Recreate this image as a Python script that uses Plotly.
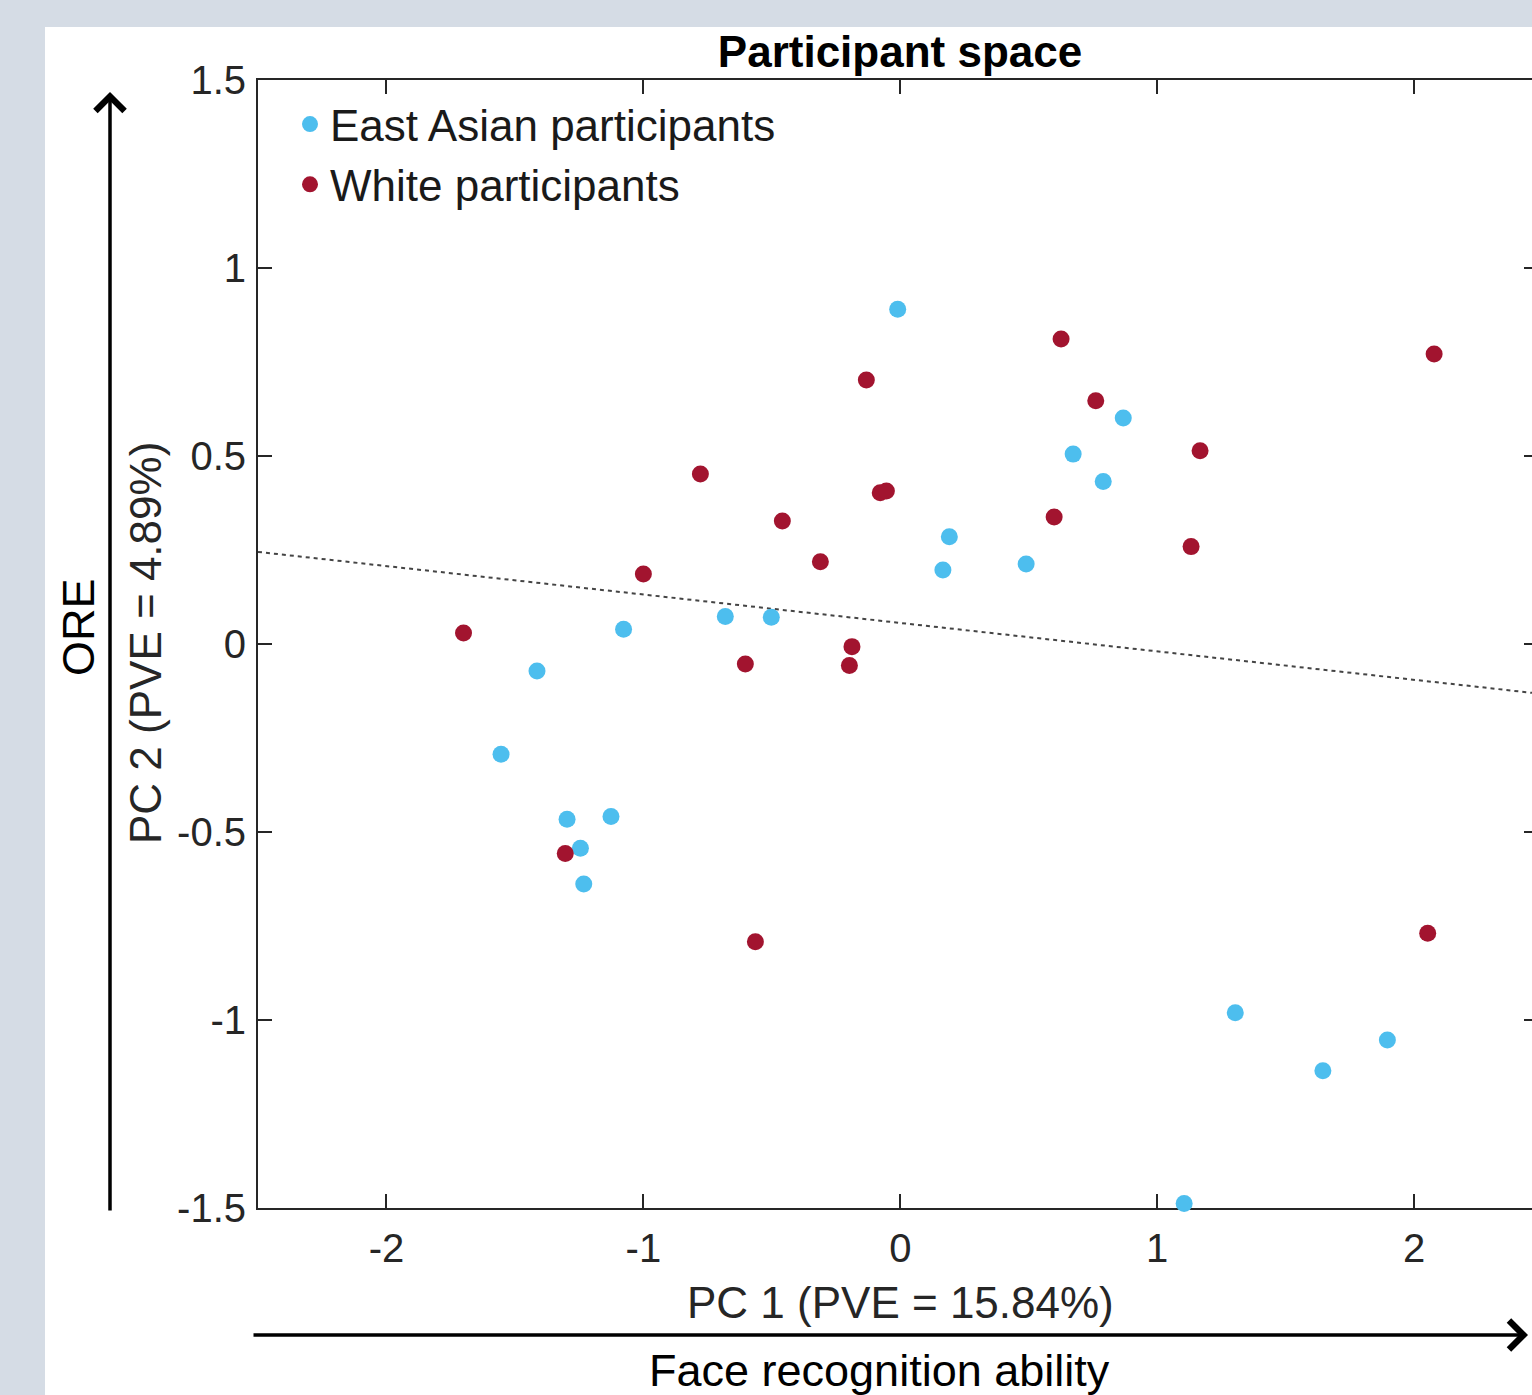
import plotly.graph_objects as go

# ---- data ----
east_asian_pc1 = [-0.010, 0.868, 0.673, 0.790, 0.191, 0.166, 0.490, -1.077, -0.681, -0.502,
                  -1.414, -1.554, -1.297, -1.126, -1.245, -1.232, 1.304, 1.645, 1.896, 1.105]
east_asian_pc2 = [0.890, 0.601, 0.505, 0.432, 0.285, 0.197, 0.213, 0.039, 0.073, 0.071,
                  -0.072, -0.293, -0.466, -0.459, -0.543, -0.638, -0.981, -1.135, -1.053, -1.488]
white_pc1 = [-1.700, -1.000, -0.778, -0.459, -0.311, -0.132, -0.078, -0.054, -0.188, -0.603,
             -0.198, -1.304, -0.564, 0.626, 0.761, 1.167, 0.599, 1.132, 2.078, 2.053]
white_pc2 = [0.029, 0.186, 0.452, 0.327, 0.219, 0.702, 0.402, 0.407, -0.007, -0.053,
             -0.057, -0.557, -0.792, 0.811, 0.647, 0.514, 0.338, 0.259, 0.771, -0.769]
fit_slope = -0.0756
fit_intercept = 0.056

x_tickvals = [-2, -1, 0, 1, 2]
x_ticktext = ["-2", "-1", "0", "1", "2"]
y_tickvals = [-1.5, -1, -0.5, 0, 0.5, 1, 1.5]
y_ticktext = ["-1.5", "-1", "-0.5", "0", "0.5", "1", "1.5"]

series_names = ["East Asian participants", "White participants"]
title_text = "Participant space"
x_title = "PC 1 (PVE = 15.84%)"
y_title = "PC 2 (PVE = 4.89%)"
x_concept = "Face recognition ability"
y_concept = "ORE"

# ---- layout constants ----
W, H = 1532, 1395
L, R, T, B = 258, 0, 80, 187
x_range = [-2.5, 2.459]
y_range = [-1.5, 1.5]
FONT = "Liberation Sans, Arial, Helvetica, sans-serif"
BLUE = "#4DBEEE"
RED = "#A2142F"
AX = "#262626"

pw = W - L - R
ph = H - T - B


def px(xp):
    return (xp - L) / pw


def py(yp):
    return (H - B - yp) / ph


fig = go.Figure()

fit_x = x_range
fit_y = [fit_intercept + fit_slope * v for v in fit_x]
fig.add_trace(go.Scatter(x=fit_x, y=fit_y, mode="lines", showlegend=False,
                         line=dict(color="#444444", width=2, dash="4px,4px"),
                         hoverinfo="skip"))

fig.add_trace(go.Scatter(x=east_asian_pc1, y=east_asian_pc2, mode="markers",
                         name=series_names[0], cliponaxis=False,
                         marker=dict(color=BLUE, size=17, line=dict(width=0))))
fig.add_trace(go.Scatter(x=white_pc1, y=white_pc2, mode="markers",
                         name=series_names[1], cliponaxis=False,
                         marker=dict(color=RED, size=17, line=dict(width=0))))
# helper trace for the right-hand tick axis
fig.add_trace(go.Scatter(x=[None], y=[None], yaxis="y2", showlegend=False,
                         hoverinfo="skip"))

fig.update_layout(
    width=W, height=H,
    margin=dict(l=L, r=R, t=T, b=B, pad=0),
    paper_bgcolor="#d5dce5",
    plot_bgcolor="white",
    font=dict(family=FONT, color=AX, size=40),
    title=dict(text="<b>" + title_text + "</b>", x=px(900), xref="paper", xanchor="center",
               y=1 - 52 / H, yref="container", yanchor="middle",
               font=dict(family=FONT, size=44, color="black")),
    xaxis=dict(range=x_range, tickvals=x_tickvals, ticktext=x_ticktext,
               ticks="inside", ticklen=14, tickwidth=2, tickcolor=AX,
               showline=True, linecolor=AX, linewidth=2, mirror="ticks",
               showgrid=False, zeroline=False, layer="below traces",
               tickfont=dict(size=40, color=AX), ticklabelstandoff=4),
    yaxis=dict(range=y_range, tickvals=y_tickvals, ticktext=y_ticktext,
               ticks="inside", ticklen=14, tickwidth=2, tickcolor=AX,
               showline=True, linecolor=AX, linewidth=2, mirror=False,
               showgrid=False, zeroline=False, layer="below traces",
               tickfont=dict(size=40, color=AX), ticklabelstandoff=2),
    yaxis2=dict(range=y_range, overlaying="y", side="right", tickvals=y_tickvals,
                ticks="inside", ticklen=8, tickwidth=2, tickcolor=AX,
                showticklabels=False, showline=False, showgrid=False, zeroline=False),
    legend=dict(x=px(290), y=py(89), xanchor="left", yanchor="top",
                bgcolor="rgba(0,0,0,0)", borderwidth=0,
                font=dict(family=FONT, size=44, color="#1a1a1a"),
                itemsizing="trace"),
    showlegend=True,
)

# white panel behind the figure
fig.add_shape(type="rect", xref="paper", yref="paper",
              x0=px(45), x1=px(W + 20), y0=py(H + 20), y1=py(27),
              fillcolor="white", line=dict(width=0), layer="below")

# axis titles
fig.add_annotation(text=x_title, xref="paper", yref="paper", x=px(900), y=py(1302),
                   xanchor="center", yanchor="middle", showarrow=False,
                   font=dict(family=FONT, size=44, color=AX))
fig.add_annotation(text=x_concept, xref="paper", yref="paper", x=px(879), y=py(1370),
                   xanchor="center", yanchor="middle", showarrow=False,
                   font=dict(family=FONT, size=45, color="black"))
fig.add_annotation(text=y_title, xref="paper", yref="paper", x=px(145), y=py(643),
                   xanchor="center", yanchor="middle", showarrow=False, textangle=-90,
                   font=dict(family=FONT, size=44, color=AX))
fig.add_annotation(text=y_concept, xref="paper", yref="paper", x=px(78), y=py(627),
                   xanchor="center", yanchor="middle", showarrow=False, textangle=-90,
                   font=dict(family=FONT, size=45, color="black"))

# concept arrows
fig.add_annotation(text="", xref="paper", yref="paper", x=px(1528), y=py(1335),
                   ax=-(1528 - 252), ay=0, showarrow=True, arrowhead=4,
                   arrowwidth=3.5, arrowsize=1.6, arrowcolor="black")
fig.add_annotation(text="", xref="paper", yref="paper", x=px(110), y=py(92),
                   ax=0, ay=(1212 - 92), showarrow=True, arrowhead=4,
                   arrowwidth=3.5, arrowsize=1.6, arrowcolor="black")

fig.write_html("out.html",
               config={"displayModeBar": False},
               post_script="document.body.style.margin='0px';"
                           "document.body.style.overflow='hidden';")
